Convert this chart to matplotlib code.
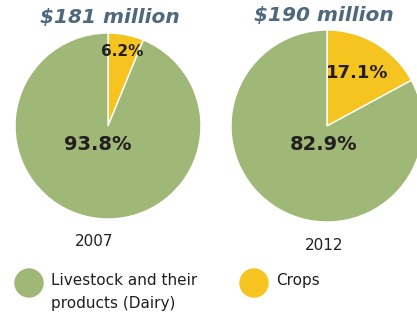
import matplotlib.pyplot as plt
from matplotlib.patches import Circle

years = ['2007', '2012']
totals = ['$181 million', '$190 million']
crops = [6.2, 17.1]
livestock = [93.8, 82.9]
legend_labels = ['Livestock and their\nproducts (Dairy)', 'Crops']

green = '#9fb877'
yellow = '#f6c421'
title_color = '#4e687c'
text_color = '#231f20'

W, H = 417, 320
fig = plt.figure(figsize=(W / 100, H / 100), dpi=100)
ax = fig.add_axes([0, 0, 1, 1])

# pixel-ish layout, y measured from the top
centers = [(108, 126), (327, 126)]
radii = [93, 96]
title_pos = [(110, 17), (324, 15)]
year_pos = [(94, 241), (324, 246)]
crop_lbl = [(122, 52), (357, 73)]
live_lbl = [(98, 145), (324, 145)]

for i in range(2):
    cx, cy = centers[i]
    ax.pie([crops[i], livestock[i]], colors=[yellow, green], startangle=90,
           counterclock=False, center=(cx, H - cy), radius=radii[i],
           wedgeprops=dict(edgecolor='white', linewidth=1.0), frame=True)
    ax.text(title_pos[i][0], H - title_pos[i][1], totals[i], ha='center', va='center',
            fontsize=14.5, fontweight='bold', style='italic', color=title_color)
    ax.text(year_pos[i][0], H - year_pos[i][1], years[i], ha='center', va='center',
            fontsize=11, color=text_color)
    ax.text(crop_lbl[i][0], H - crop_lbl[i][1], f'{crops[i]}%', ha='center', va='center',
            fontsize=13 if i == 1 else 11, fontweight='bold', color=text_color)
    ax.text(live_lbl[i][0], H - live_lbl[i][1], f'{livestock[i]}%', ha='center', va='center',
            fontsize=14, fontweight='bold', color=text_color)

ax.set_xlim(0, W)
ax.set_ylim(0, H)
ax.set_aspect('equal')
ax.axis('off')

# legend
leg_pos = [(29, 283), (254, 283)]
for (lx, ly), col, lab in zip(leg_pos, [green, yellow], legend_labels):
    ax.add_patch(Circle((lx, H - ly), 14, color=col, clip_on=False))
    ax.text(lx + 22, H - ly + 10, lab, ha='left', va='top', fontsize=11,
            color=text_color, linespacing=1.7)

fig.savefig('out.png', dpi=100)
